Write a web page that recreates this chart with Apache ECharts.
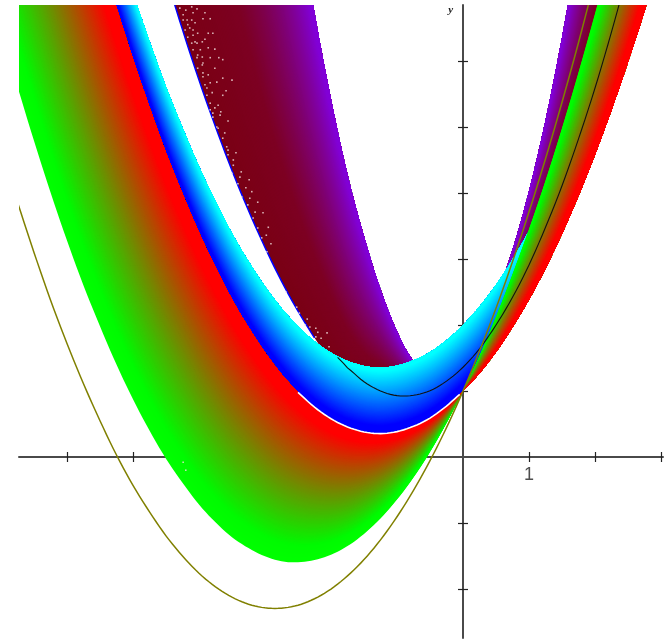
<!DOCTYPE html>
<html>
<head>
<meta charset="utf-8">
<style>html,body{margin:0;padding:0;background:#fff}#c{width:666px;height:640px}</style>
<script src="https://cdn.jsdelivr.net/npm/echarts@6/dist/echarts.min.js"></script>
</head>
<body>
<div id="c"></div>
<script>
const xs = [-6.75,-6.5,-6.25,-6,-5.75,-5.5,-5.25,-5,-4.75,-4.5,-4.25,-4,-3.75,-3.5,-3.25,-3,-2.75,-2.5,-2.25,-2,-1.75,-1.5,-1.25,-1,-0.75,-0.5,-0.25,0,0.25,0.5,0.75,1,1.25,1.5,1.75,2,2.25,2.5,2.75,3];
const oliveCurve = [3.86,3.10,2.38,1.72,1.11,0.55,0.03,-0.43,-0.83,-1.194,-1.50,-1.76,-1.967,-2.124,-2.23,-2.285,-2.29,-2.245,-2.147,-2.00,-1.80,-1.554,-1.255,-0.905,-0.505,-0.054,0.445,1,1.605,2.255,2.96,3.715,4.52,5.375,6.28,7.24,null,null,null,null];
const greenEdge = [5.61,4.79,4.01,3.28,2.60,1.98,1.40,0.875,0.40,-0.025,-0.39,-0.72,-0.99,-1.215,-1.38,-1.505,-1.58,-1.595,-1.56,-1.48,-1.35,-1.165,-0.93,-0.645,-0.31,0.075,0.515,1,1.535,2.125,2.77,3.455,4.19,4.985,5.83,6.72,7.66,8.655,9.70,10.8];
const redEdge = [12.57,11.48,10.45,9.46,8.53,7.64,6.81,6.03,5.30,4.61,3.99,3.40,2.875,2.39,1.965,1.585,1.255,0.98,0.755,0.58,0.455,0.38,0.355,0.385,0.465,0.59,0.77,1,1.27,1.59,1.965,2.385,2.855,3.38,3.955,4.58,5.255,5.98,6.755,7.585];
const cyanEdge = [null,null,null,null,null,8.64,7.81,7.03,6.30,5.61,4.99,4.40,3.875,3.39,2.965,2.585,2.255,1.98,1.755,1.58,1.455,1.38,1.355,1.385,1.465,1.59,1.77,2.0,2.28,2.61,2.995,3.425,3.905,null,null,null,null,null,null,null];
const purpleEdge = [null,null,null,null,null,null,null,null,null,26.5,23.6,20.8,18.3,15.9,13.7,11.7,9.85,8.2,6.73,5.42,4.28,3.34,2.54,1.9,1.45,1.25,1.28,1.54,1.89,2.425,3.14,4.03,5.10,6.355,7.79,9.4,11.19,null,null,null];
const maroonEdge = [null,null,null,null,null,null,null,null,null,7.28,6.475,5.71,5.005,4.34,3.735,3.175,2.665,2.21,1.805,1.45,1.15,1.0,1.0,1.0,1.0,1.0,1.0,1.0,1.425,1.9,2.43,3.005,3.63,4.31,5.04,5.82,6.65,null,null,null];
const blackX = [-1.9,-1.75,-1.5,-1.25,-1,-0.75,-0.5,-0.25,0,0.25,0.5,0.75,1,1.25,1.5,1.75,2,2.25,2.5];
const blackY = [1.51,1.35,1.14,1.00,0.93,0.935,1.005,1.15,1.36,1.64,2.00,2.42,2.91,3.48,4.11,4.82,5.59,6.44,7.355];
const whiteX = [-2.5,-2.25,-2,-1.75,-1.5,-1.25,-1,-0.75,-0.5,-0.25,-0.05];
const whiteY = [0.98,0.755,0.58,0.455,0.38,0.355,0.385,0.465,0.59,0.77,0.95];
const blueLineX = [-4.5,-4.25,-4,-3.75,-3.5,-3.25,-3,-2.75,-2.5,-2.25];
const blueLineY = [7.28,6.475,5.71,5.005,4.34,3.735,3.175,2.665,2.21,1.805];
const speckX = [-4.29,-4.20,-4.11,-4.03,-3.91,-3.94,-3.83,-4.24,-4.17,-4.09,-3.86,-3.79,-3.91,-4.06,-3.86,-3.76,-4.02,-3.83,-3.70,-3.64,-3.95,-3.76,-3.94,-3.64,-3.50,-3.73,-3.88,-3.59,-3.64,-3.83,-3.71,-3.79,-3.67,-3.56,-3.73,-3.64,-3.58,-3.44,-3.56,-3.48,-3.36,-3.24,-3.41,-3.29,-3.20,-3.35,-3.23,-3.11,-3.26,-3.15,-3.03,-3.18,-2.95,-3.11,-2.98,-3.05,-2.91,-2.97,-2.68,-2.52,-2.48,-2.36,-2.39,-2.32,-2.23,-2.20,-2.06,-2.23,-2.15,-2.03,-4.24,-4.20,
  -4.09,-4.24,-4.18,-4.11,-4.06,-4.21,-4.14,-4.09,-4.17,-4.02,-4.11,-4.03,-3.95,-4.09,-3.98,-4.03,-3.95,-4.02,-3.94,-3.94,-3.86,-3.91,-3.83,-3.88,-3.80,-3.83,-3.76,-3.79,-3.68,-3.71,-3.61,-3.56,-3.48,-3.50,-3.38];
const speckY = [6.80,6.77,6.82,6.79,6.73,6.64,6.64,6.62,6.55,6.47,6.42,6.42,6.33,6.29,6.20,6.18,6.09,6.05,6.05,6.02,5.94,5.89,5.82,5.74,5.71,5.68,5.59,5.55,5.48,5.36,5.33,5.21,5.23,5.09,5.00,4.83,4.70,4.61,4.58,4.42,4.32,4.20,4.14,4.08,4.02,3.94,3.92,3.86,3.82,3.71,3.70,3.62,3.48,3.47,3.36,3.32,3.23,3.11,2.50,2.27,2.18,2.09,2.00,1.97,1.95,1.89,1.88,1.82,1.80,1.67,-0.08,-0.20,
  6.73,6.70,6.62,6.62,6.58,6.47,6.50,6.39,6.36,6.42,6.27,6.27,6.29,6.17,6.17,6.05,6.06,5.89,5.97,5.76,5.79,5.64,5.67,5.48,5.52,5.26,5.29,5.15,5.18,4.98,4.91,4.65,4.50,4.30,4.24];
const xTicks = [-6,-5,-4,-3,-2,-1,1,2,3];
const yTicks = [-2,-1,1,2,3,4,5,6];
const xLabelValue = [1];
const xLabelY = [-0.28];
const yName = 'y';

function pairs(a, b) { return a.map((v, i) => [v, b[i]]); }
function mix(stops, f) {
  let i = 0;
  while (i < stops.length - 2 && f > stops[i + 1][0]) i++;
  const p = stops[i], q = stops[i + 1];
  const t = Math.max(0, Math.min(1, (f - p[0]) / (q[0] - p[0])));
  const c = [0, 1, 2].map(k => Math.round(p[1][k] + (q[1][k] - p[1][k]) * t));
  return 'rgb(' + c.join(',') + ')';
}
/* drawing-only rounding of a read curve between its read points (Catmull-Rom spline) */
function rounded(X, Y) {
  const idx = [];
  X.forEach((_, i) => { if (Y[i] != null) idx.push(i); });
  const out = [];
  idx.forEach((i, j) => {
    if (j === idx.length - 1) { out.push([X[i], Y[i]]); return; }
    const k = idx[j + 1];
    const y1 = Y[i], y2 = Y[k];
    const y0 = j > 0 ? Y[idx[j - 1]] : 2 * y1 - y2;
    const y3 = j + 2 < idx.length ? Y[idx[j + 2]] : 2 * y2 - y1;
    for (let s = 0; s < 5; s++) {
      const t = s / 5;
      const y = 0.5 * (2 * y1 + (y2 - y0) * t + (2 * y0 - 5 * y1 + 4 * y2 - y3) * t * t + (3 * y1 - y0 - 3 * y2 + y3) * t * t * t);
      out.push([X[i] + (X[k] - X[i]) * t, y]);
    }
  });
  return out;
}
function band(name, lo, hi, stops, z) {
  const n = 140;
  const keepLo = lo.map((v, i) => (v == null || hi[i] == null) ? null : v);
  const keepHi = hi.map((v, i) => (v == null || lo[i] == null) ? null : v);
  const L = rounded(xs, keepLo), H = rounded(xs, keepHi);
  return {
    type: 'custom', name, coordinateSystem: 'cartesian2d', clip: true, z, silent: true, animation: false,
    data: Array.from({length: n}, (_, k) => [k]),
    renderItem(params, api) {
      const k = params.dataIndex, f0 = k / n;
      const bot = L.map((p, i) => api.coord([p[0], p[1] + (H[i][1] - p[1]) * f0]));
      const top = H.map(p => api.coord(p));
      return {
        type: 'polygon',
        shape: {points: bot.concat(top.reverse())},
        style: {fill: mix(stops, (k + 0.5) / n)}
      };
    }
  };
}
function curve(name, X, Y, color, width, z) {
  const P = rounded(X, Y);
  return {
    type: 'custom', name, coordinateSystem: 'cartesian2d', clip: true, z, silent: true, animation: false,
    data: [[0]],
    renderItem(params, api) {
      return {
        type: 'polyline',
        shape: {points: P.map(p => api.coord(p))},
        style: {stroke: color, lineWidth: width, fill: 'none'}
      };
    }
  };
}
const axisCol = '#4a4a4a';
const chart = echarts.init(document.getElementById('c'), null, {renderer: 'canvas'});
const xBase = {type: 'value', min: -6.727, max: 3.03, splitLine: {show: false}};
const yBase = {type: 'value', min: -2.742, max: 6.848, splitLine: {show: false}};
const tick = {color: '#222', width: 1.2};
chart.setOption({
  animation: false,
  backgroundColor: '#fff',
  grid: {left: 19, right: 3, top: 5, bottom: 2, containLabel: false, outerBoundsMode: 'none'},
  xAxis: [
    Object.assign({}, xBase, {
      position: 'bottom',
      axisLine: {show: true, onZero: true, lineStyle: {color: axisCol, width: 2}},
      axisTick: {show: true, length: 5, customValues: xTicks, lineStyle: tick},
      axisLabel: {show: false}
    }),
    Object.assign({}, xBase, {
      position: 'top',
      axisLine: {show: false, onZero: true},
      axisTick: {show: true, length: 5, customValues: xTicks, lineStyle: tick},
      axisLabel: {show: false}
    })
  ],
  yAxis: [
    Object.assign({}, yBase, {
      position: 'left',
      name: yName,
      nameLocation: 'end',
      nameGap: -11,
      nameTextStyle: {fontFamily: 'Liberation Serif', fontStyle: 'italic', fontWeight: 'bold', fontSize: 11, color: '#222', align: 'right', padding: [0, 10, 0, 0]},
      axisLine: {show: true, onZero: true, lineStyle: {color: axisCol, width: 2}},
      axisTick: {show: true, length: 5, customValues: yTicks, lineStyle: tick},
      axisLabel: {show: false}
    }),
    Object.assign({}, yBase, {
      position: 'right',
      axisLine: {show: false, onZero: true},
      axisTick: {show: true, length: 5, customValues: yTicks, lineStyle: tick},
      axisLabel: {show: false}
    })
  ],
  series: [
    band('maroon-purple', maroonEdge, purpleEdge, [[0, [122, 0, 20]], [0.25, [125, 0, 35]], [0.95, [130, 0, 215]], [1, [130, 0, 215]]], 2),
    curve('blue edge', blueLineX, blueLineY, '#0000ff', 1.5, 3),
    band('blue-cyan', redEdge, cyanEdge, [[0, [0, 0, 255]], [0.12, [0, 0, 255]], [0.95, [0, 255, 255]], [1, [0, 255, 255]]], 4),
    band('green-red', greenEdge, redEdge, [[0, [0, 255, 0]], [0.1, [0, 250, 0]], [0.9, [255, 0, 0]], [1, [255, 0, 0]]], 5),
    curve('white edge', whiteX, whiteY, '#ffffff', 1.6, 6),
    curve('black curve', blackX, blackY, '#111111', 1.1, 7),
    curve('olive curve', xs, oliveCurve, '#808000', 1.5, 8),
    {type: 'scatter', name: 'speckle', data: pairs(speckX, speckY), symbol: 'rect', symbolSize: 1.6, z: 9, silent: true, animation: false,
      itemStyle: {color: '#f0dcdc'}},
    {type: 'scatter', name: 'tick label', data: pairs(xLabelValue, xLabelY), symbolSize: 0, z: 9, silent: true, animation: false,
      label: {show: true, position: 'inside', formatter: p => String(p.value[0]), color: '#222', fontFamily: 'Liberation Sans', fontSize: 18}}
  ]
});
</script>
</body>
</html>
